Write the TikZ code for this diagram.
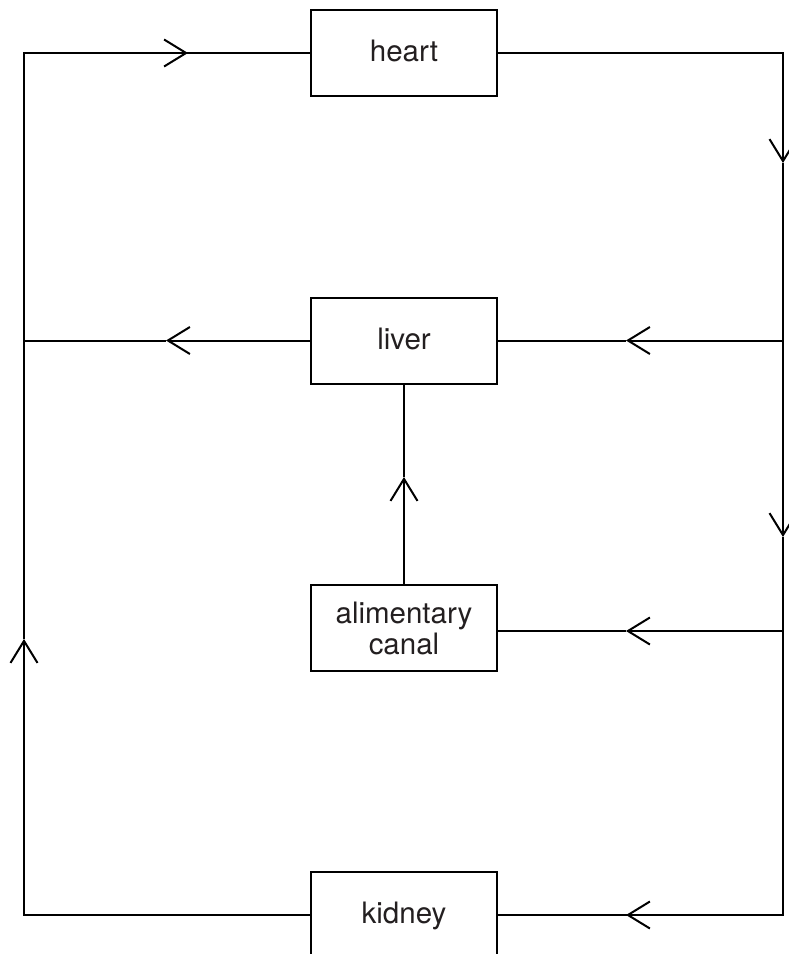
\documentclass[tikz,border=0pt]{standalone}
\usepackage{fontspec}
\setmainfont{TeX Gyre Heros}
\usetikzlibrary{arrows.meta}
\definecolor{inkgray}{HTML}{231F20}
\begin{document}
\begin{tikzpicture}[x=1pt,y=-1pt,
  line width=2pt, line join=miter,
  organ/.style={draw, line width=2pt, minimum width=186pt, minimum height=86pt, inner sep=0pt,
    font=\fontsize{29.5}{31}\selectfont, text=inkgray},
  onetext/.style={text height=22.5pt, text depth=5pt},
  arr/.style={-{Straight Barb[length=22pt,width=27pt,line width=2pt]}}]
\useasboundingbox (0,0) rectangle (789,954);
% boxes
\node[organ,onetext] (heart) at (404,53) {heart};
\node[organ,onetext] (liver) at (404,340.5) {liver};
\node[organ,align=center,minimum height=85.7pt] (alim) at (404,628) {alimentary\\canal};
\node[organ,onetext] (kidney) at (404,915) {kidney};
% corner and junction coordinates
\coordinate (TL) at (24,53);
\coordinate (TR) at (783,53);
\coordinate (BL) at (24,915);
\coordinate (BR) at (783,915);
\coordinate (JL) at (24,340.5);
\coordinate (JR) at (783,340.5);
\coordinate (JA) at (783,631);
% arrow tip positions
\coordinate (aTop) at (188,53);
\coordinate (aLeftUp) at (24,639);
\coordinate (aLiverL) at (166,340.5);
\coordinate (aR1) at (783,163);
\coordinate (aR2) at (783,537);
\coordinate (aLiverR) at (626,340.5);
\coordinate (aAlimR) at (626,631);
\coordinate (aKid) at (626,915);
\coordinate (aUp) at (404,477);
% left loop
\draw[arr] (kidney.west) -- (BL) -- (aLeftUp);
\draw (aLeftUp) -- (TL) -- (aTop |- TL);
\draw[arr] (TL) -- (aTop);
\draw (aTop) -- (heart.west);
\draw[arr] (liver.west) -- (aLiverL);
\draw (aLiverL) -- (JL);
% right side
\draw[arr] (heart.east) -- (TR) -- (aR1);
\draw[arr] (aR1) -- (aR2);
\draw (aR2) -- (BR) -- (aKid |- BR);
\draw[arr] (BR) -- (aKid);
\draw (aKid) -- (kidney.east);
\draw[arr] (JR) -- (aLiverR);
\draw (aLiverR) -- (liver.east);
\draw[arr] (JA) -- (aAlimR);
\draw (aAlimR) -- (alim.east |- JA);
% alimentary to liver
\draw[arr] (alim.north) -- (aUp);
\draw (aUp) -- (liver.south);
\end{tikzpicture}
\end{document}
